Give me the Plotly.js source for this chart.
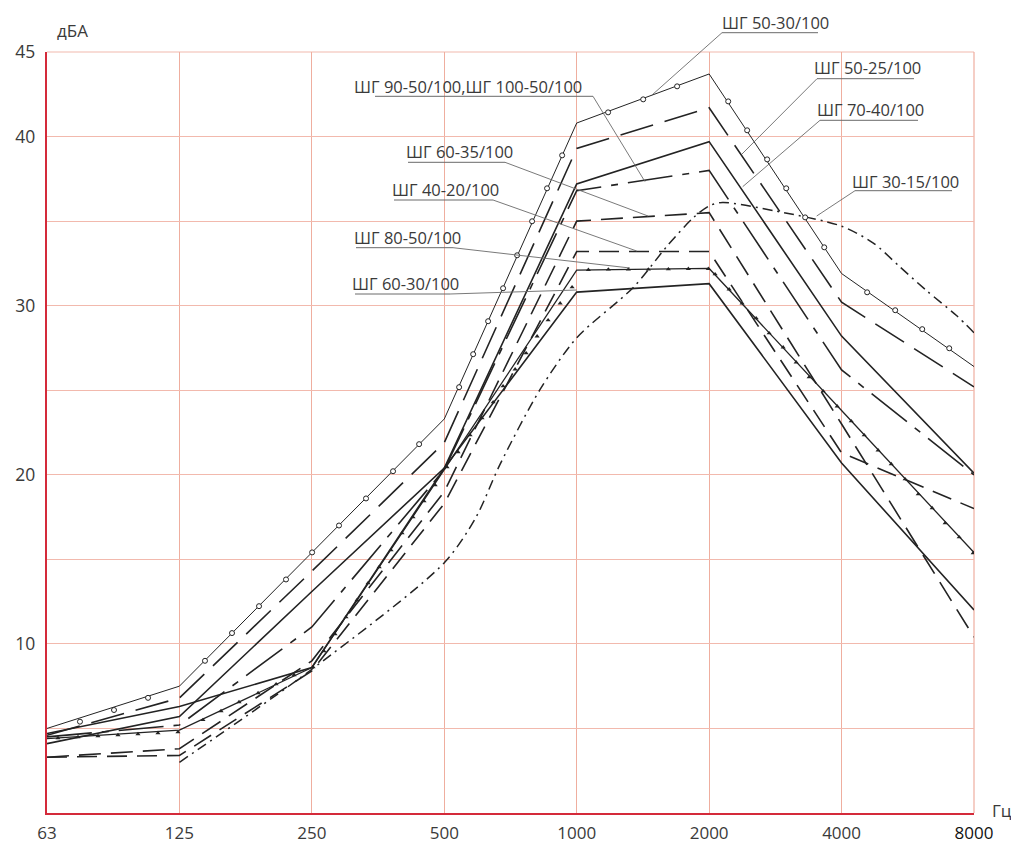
<!DOCTYPE html>
<html><head><meta charset="utf-8">
<script src="https://cdn.plot.ly/plotly-3.0.1.min.js"></script>
<style>html,body{margin:0;padding:0;background:#fff;}#chart{width:1011px;height:846px;}</style>
</head><body><div id="chart"></div>
<script>
// Octave-band frequencies (Hz) and their positions on the octave axis
const freqLabels = ['63','125','250','500','1000','2000','4000','<span style="color:#111">8000</span>'];
const octavePos = [0,1,2,3,4,5,6,7];

// Sound level, dBA, at each octave band
const sh50_30 = [5.0, 7.5, 15.4, 23.3, 40.8, 43.7, 31.9, 26.4];
const sh50_25 = [4.6, 6.8, 14.3, 21.9, 39.3, 41.7, 30.2, 25.2];
const sh70_40 = [4.1, 5.7, 13.1, 20.4, 37.2, 39.7, 28.2, 20.1];
const sh90_50 = [4.5, 5.2, 11.0, 20.3, 36.8, 38.0, 26.2, 20.0];
const sh60_35 = [3.3, 3.8, 9.0, 19.0, 35.0, 35.5, 23.0, 10.4];
const sh40_20 = [3.3, 3.4, 8.4, 18.3, 33.2, 33.2, 21.3, 18.0];
const sh80_50 = [4.4, 4.9, 8.6, 20.3, 32.1, 32.2, 23.8, 15.4];
const sh60_30 = [4.7, 6.3, 8.6, 20.4, 30.8, 31.3, 20.7, 12.0];

// ШГ 30-15/100 is a smooth curve: points read along it (octave position, dBA)
const sh30_15_x = [1, 2, 3, 3.24, 3.42, 3.72, 4, 4.43, 4.68, 4.88, 5, 5.1, 5.5, 6, 6.24, 6.44, 6.64, 6.87, 7];
const sh30_15_y = [3.0, 8.5, 14.8, 17.5, 20.6, 25.0, 28.1, 31.1, 33.5, 35.2, 35.9, 36.1, 35.6, 34.7, 33.7, 32.3, 30.9, 29.4, 28.4];

// Open-circle symbols drawn along ШГ 50-30/100 (octave position, dBA)
const circMarkX = [0.249,0.506,0.763,1.193,1.397,1.601,1.805,2.002,2.205,2.409,2.613,2.810,3.112,3.218,3.331,3.444,3.550,3.663,3.776,3.890,4.237,4.502,4.758,5.144,5.287,5.438,5.582,5.725,5.869,6.193,6.405,6.609,6.813];
const circMarkY = [5.40,6.09,6.81,9.00,10.64,12.23,13.81,15.41,17.00,18.60,20.21,21.81,25.18,27.13,29.08,31.03,32.98,34.99,36.94,38.89,41.43,42.20,42.97,42.08,40.37,38.65,36.94,35.22,33.45,30.79,29.73,28.61,27.48];

// Small filled triangles drawn along ШГ 80-50/100 (octave position, dBA)
const triMarkX = [0.083,0.234,0.385,0.536,0.687,0.838,0.989,1.178,1.314,1.450,1.594,1.730,1.866,2.009,2.092,2.175,2.258,2.341,2.424,2.508,2.598,2.681,2.764,2.847,2.931,3.021,3.104,3.195,3.285,3.369,3.444,3.535,3.618,3.701,3.784,3.875,3.965,4.088,4.239,4.390,4.541,4.692,4.843,4.994,5.045,5.151,5.249,5.355,5.453,5.559,5.657,5.755,5.861,5.967,6.073,6.171,6.276,6.375,6.480,6.579,6.684,6.782,6.888,6.994];
const triMarkY = [4.43,4.49,4.55,4.61,4.67,4.73,4.79,5.50,6.03,6.56,7.09,7.62,8.16,8.63,9.57,10.58,11.58,12.59,13.59,14.54,15.54,16.55,17.49,18.44,19.39,20.45,21.34,22.34,23.35,24.29,25.24,26.24,27.19,28.19,29.14,30.14,31.09,32.12,32.14,32.14,32.14,32.16,32.18,32.18,31.86,30.97,30.14,29.26,28.37,27.54,26.65,25.77,24.94,24.05,23.17,22.34,21.45,20.63,19.74,18.85,18.03,17.14,16.31,15.37];

// Y tick labels
const yTickVals = [5,10,15,20,25,30,35,40,45];
const yTickText = ['','10','','20','','30','','40','45'];

// Series labels
const seriesLabels = ['ШГ 50-30/100','ШГ 50-25/100','ШГ 70-40/100','ШГ 30-15/100','ШГ 90-50/100,ШГ 100-50/100','ШГ 60-35/100','ШГ 40-20/100','ШГ 80-50/100','ШГ 60-30/100'];

const INK = '#232323';
function line(y, dash, w, x, shape) {
  return {type:'scatter', mode:'lines', x: x || octavePos, y: y,
    line:{color:INK, width:w, dash:dash, shape: shape || 'linear', smoothing:0.8}, hoverinfo:'skip'};
}
const traces = [
  line(sh50_30, 'solid', 1.0),
  line(sh50_25, '34px,12px', 1.6),
  line(sh70_40, 'solid', 1.6),
  line(sh90_50, '45px,10px,7px,10px', 1.6),
  line(sh60_35, '22px,10px', 1.6),
  line(sh40_20, '20px,10px', 1.6),
  line(sh80_50, 'solid', 1.3),
  line(sh60_30, 'solid', 1.6),
  line(sh30_15_y, '10px,5px,2px,5px', 1.5, sh30_15_x, 'spline'),
  {type:'scatter', mode:'markers', x:circMarkX, y:circMarkY, hoverinfo:'skip',
    marker:{symbol:'circle', size:5, color:'#fff', line:{color:INK, width:1}}},
  {type:'scatter', mode:'markers', x:triMarkX, y:triMarkY, hoverinfo:'skip',
    marker:{symbol:'triangle-up', size:4.5, color:INK, line:{width:0}}}
];

// layout helpers: pixel position in the 1011x846 frame -> paper coordinates
const L = 47, R = 974, T = 52, B = 813;
const px = v => (v - L) / (R - L);
const py = v => (B - v) / (B - T);

// label geometry (text left, text middle, underline x1, x2, y, leader from -> to)
const labelGeom = [
  [720, 22, 722, 818, 32.7, 722, 32.7, 652, 95],
  [812, 68, 817, 914, 78.7, 817, 78.7, 742, 154],
  [815, 110, 820, 918, 120.3, 820, 120.3, 742.7, 186.7],
  [850, 181, 855, 952, 190.7, 855, 190.7, 816.7, 216],
  [352, 86, 375, 593, 96.3, 593, 96.3, 645, 181.7],
  [404, 151, 408, 505, 162.3, 505, 162.3, 648, 216],
  [390, 189, 394, 493, 200, 493, 200, 636.7, 251],
  [352, 237.5, 356, 453, 247.7, 453, 247.7, 630, 268],
  [350, 283.5, 355, 450, 294, 450, 294, 576.7, 290]
];

const GRID = '#f2b9ad', GRIDX = '#efae9f', AXIS = '#d42a3a';
const annotations = [];
const shapes = [
  // top and right frame lines (grid colour) at 45 dBA and 8000 Hz
  {type:'line', xref:'paper', yref:'paper', x0:0, x1:1, y0:1, y1:1, line:{color:GRID, width:1.2}, layer:'below'},
  {type:'line', xref:'paper', yref:'paper', x0:1, x1:1, y0:0, y1:1, line:{color:GRIDX, width:1.2}, layer:'below'}
];
seriesLabels.forEach((t, i) => {
  const g = labelGeom[i];
  annotations.push({xref:'paper', yref:'paper', x:px(g[0]), y:py(g[1]), xanchor:'left', yanchor:'middle',
    text:t, showarrow:false, font:{family:'Open Sans', size:16.5, color:'#3a3a3a'}});
  shapes.push({type:'line', xref:'paper', yref:'paper', x0:px(g[2]), x1:px(g[3]), y0:py(g[4]), y1:py(g[4]),
    line:{color:'#6a6a6a', width:1}});
  shapes.push({type:'line', xref:'paper', yref:'paper', x0:px(g[5]), y0:py(g[6]), x1:px(g[7]), y1:py(g[8]),
    line:{color:'#6a6a6a', width:0.9}});
});
annotations.push({xref:'paper', yref:'paper', x:px(55), y:py(30), xanchor:'left', yanchor:'middle',
  text:'дБА', showarrow:false, font:{family:'Open Sans', size:17, color:'#3a3a3a'}});
annotations.push({xref:'paper', yref:'paper', x:px(990), y:py(810), xanchor:'left', yanchor:'middle',
  text:'Гц', showarrow:false, font:{family:'Open Sans', size:17, color:'#3a3a3a'}});

const layout = {
  width:1011, height:846,
  margin:{l:L, r:1011-R, t:T, b:846-B, pad:0},
  paper_bgcolor:'#fff', plot_bgcolor:'#fff',
  showlegend:false,
  xaxis:{range:[0,7], tickvals:octavePos, ticktext:freqLabels, showgrid:true, gridcolor:GRIDX, gridwidth:1.2,
    zeroline:false, showline:true, linecolor:AXIS, linewidth:2.2, ticks:'', ticklabelstandoff:3,
    tickfont:{family:'Open Sans', size:17, color:'#3a3a3a'}, fixedrange:true},
  yaxis:{range:[0,45], tickvals:yTickVals, ticktext:yTickText, showgrid:true, gridcolor:GRID, gridwidth:1.2,
    zeroline:false, showline:true, linecolor:AXIS, linewidth:2.2, ticks:'', ticklabelstandoff:6,
    tickfont:{family:'Open Sans', size:17.5, color:'#3a3a3a'}, fixedrange:true},
  annotations: annotations,
  shapes: shapes
};
Plotly.newPlot('chart', traces, layout, {displayModeBar:false, staticPlot:true});
</script></body></html>
